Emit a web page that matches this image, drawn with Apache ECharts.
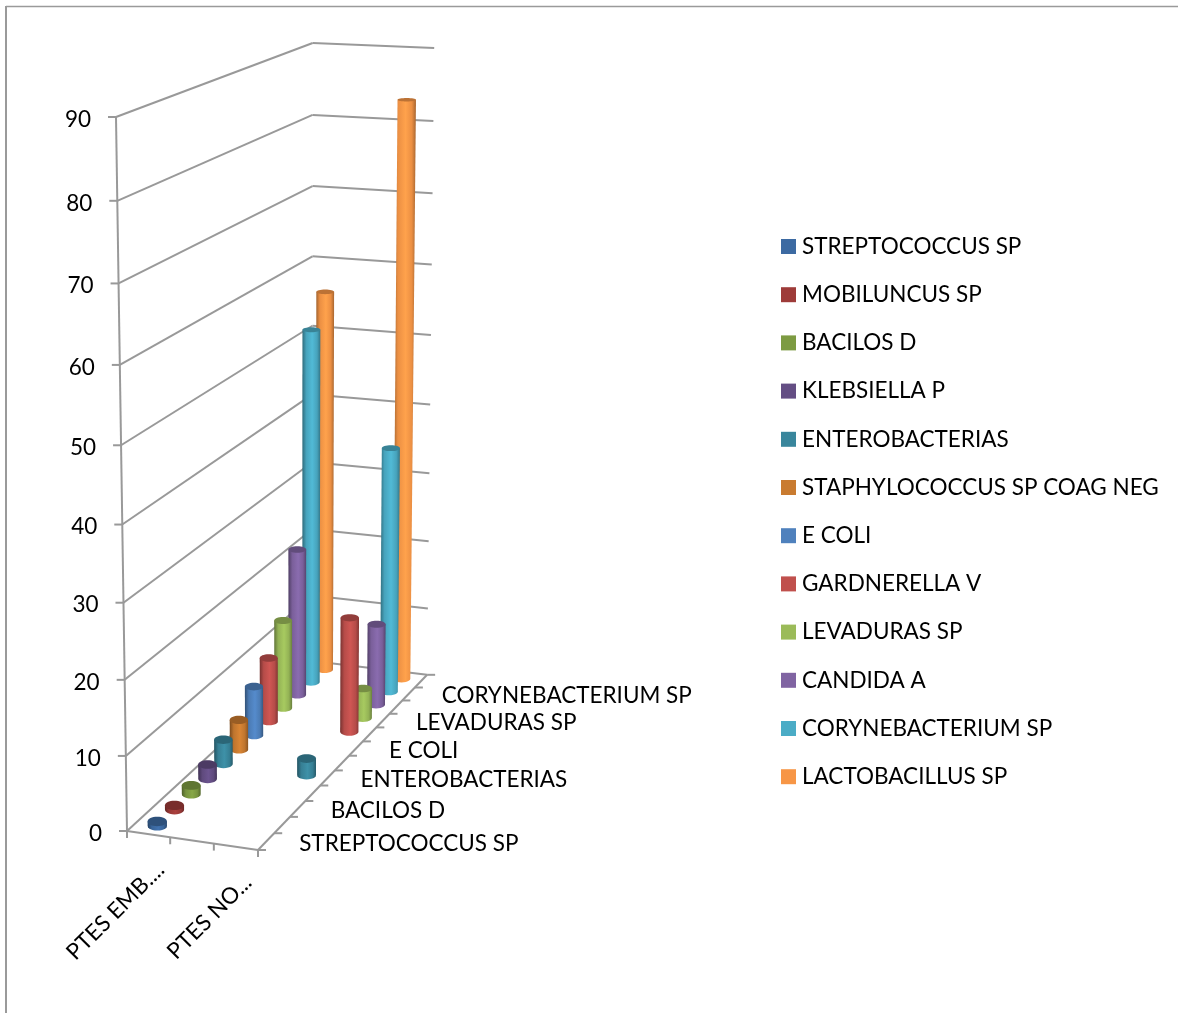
<!DOCTYPE html>
<html>
<head>
<meta charset="utf-8">
<style>
    html, body { margin: 0; padding: 0; background: #fff; }
    #main { width: 1178px; height: 1013px; }
</style>
<script src="https://cdn.jsdelivr.net/npm/echarts@6/dist/echarts.min.js"></script>
</head>
<body>
<div id="main"></div>
<script>
// 数据
const categories = ['PTES EMB....', '', 'PTES NO...'];
const species = ['STREPTOCOCCUS SP', 'MOBILUNCUS SP', 'BACILOS D', 'KLEBSIELLA P', 'ENTEROBACTERIAS',
    'STAPHYLOCOCCUS SP COAG NEG', 'E COLI', 'GARDNERELLA V', 'LEVADURAS SP', 'CANDIDA A',
    'CORYNEBACTERIUM SP', 'LACTOBACILLUS SP'];
const ptesEmb = [0.6, 0.6, 1.2, 2, 3.4, 4.2, 7, 9.2, 12.8, 21.4, 51.5, 55.7];
const ptesNo = [0, 0, 0, 0, 2.3, 0, 0, 16.3, 4.3, 11.8, 35.6, 83.2];
const yTicks = [0, 10, 20, 30, 40, 50, 60, 70, 80, 90];
const colors = ['#3C6AA2', '#9E3B39', '#7D9B42', '#644E84', '#39869C', '#C97B30',
    '#4F81BD', '#C0504D', '#9BBB59', '#8064A2', '#4BACC6', '#F79646'];

// 透视参数：前左下角 O，沿 u / w / v 三条边的端点，以及各方向的透视系数
const O = [127, 831], U = [258, 850], W = [312, 661], V = [116, 117];
const pu = -0.0168, pw = 0.1625, pv = -0.06;
const FONT = 'Lato';
const GRID = { left: 100, top: 100, width: 300, height: 300 };
const LINE = { stroke: '#999999', lineWidth: 2 };

function project(u, w, v) {
    const d = 1 + u * pu + w * pw + v * pv;
    const f = (i) => (O[i] + u * (U[i] * (1 + pu) - O[i]) + w * (W[i] * (1 + pw) - O[i]) + v * (V[i] * (1 + pv) - O[i])) / d;
    return [f(0), f(1)];
}
// 把 grid 里的坐标换成 0-1 的 u、v
function toUV(api, cat, val) {
    const c = api.coord([cat, val]);
    return [(c[0] - GRID.left) / GRID.width, (GRID.top + GRID.height - c[1]) / GRID.height];
}
function shade(hex, k) {
    const n = parseInt(hex.slice(1), 16);
    const ch = [n >> 16, (n >> 8) & 255, n & 255].map((c) => Math.min(255, Math.round(c * k)));
    return 'rgb(' + ch.join(',') + ')';
}
function line(a, b) {
    return { type: 'line', shape: { x1: a[0], y1: a[1], x2: b[0], y2: b[1] }, style: LINE, silent: true };
}
function text(str, x, y, extra) {
    return Object.assign({
        type: 'text', x: x, y: y, silent: true,
        style: { text: str, fill: '#000', font: '22.5px ' + FONT, align: 'left', verticalAlign: 'middle' }
    }, extra || {});
}

// 墙上的网格线和数值标签
function renderWall(params, api) {
    const uv = toUV(api, 0, api.value(1));
    const v = uv[1];
    const a = project(0, 0, v), b = project(0, 1, v), c = project(1, 1, v);
    const label = text(String(api.value(1)), a[0] - 25, a[1] + 2.5);
    label.style.align = 'right';
    return { type: 'group', children: [line(a, b), line(b, c), line(a, [a[0] - 8, a[1]]), label] };
}

// 地板、刻度和两条横轴的标签
function renderFloor() {
    const children = [];
    const p00 = project(0, 0, 0), p10 = project(1, 0, 0), p11 = project(1, 1, 0);
    children.push(line(p00, p10), line(p10, p11), line(p00, project(0, 0, 1)));
    for (let k = 0; k <= 3; k++) {
        const t = project(k / 3, 0, 0);
        children.push(line(t, [t[0], t[1] + 7]));
    }
    for (let k = 0; k <= species.length; k++) {
        const t = project(1, k / species.length, 0);
        children.push(line(t, [t[0] + 8, t[1]]));
    }
    species.forEach((name, i) => {
        if (i % 2) return;
        const t = project(1, (i + 0.5) / species.length, 0);
        children.push(text(name, t[0] + 33, t[1] + 2));
    });
    categories.forEach((name, i) => {
        if (!name) return;
        const t = project((i + 0.5) / categories.length, 0, 0);
        const label = text(name, t[0] + 12, t[1] + 32, { rotation: Math.PI / 4 });
        label.style.align = 'right';
        children.push(label);
    });
    return { type: 'group', children: children };
}

// 圆柱
function renderCylinder(index, api) {
    const val = api.value(1);
    if (!(val > 0)) return null;
    const uv = toUV(api, api.value(0), val);
    const u = uv[0], v = uv[1];
    const w = (index + 0.5) / species.length;
    const ru = 0.075, rw = 0.024;
    const ring = (h) => {
        const l = project(u - ru, w, h), r = project(u + ru, w, h);
        const n = project(u, w - rw, h), f = project(u, w + rw, h);
        return { cx: (l[0] + r[0]) / 2, cy: (n[1] + f[1]) / 2, rx: (r[0] - l[0]) / 2, ry: Math.abs(n[1] - f[1]) / 2 };
    };
    const top = ring(v), base = ring(0);
    const points = [[top.cx - top.rx, top.cy]];
    for (let a = 180; a >= 0; a -= 15) {
        const rad = a * Math.PI / 180;
        points.push([base.cx + base.rx * Math.cos(rad), base.cy + base.ry * Math.sin(rad)]);
    }
    points.push([top.cx + top.rx, top.cy]);
    const color = colors[index];
    const body = new echarts.graphic.LinearGradient(0, 0, 1, 0, [
        { offset: 0, color: shade(color, 0.62) },
        { offset: 0.22, color: shade(color, 0.95) },
        { offset: 0.55, color: shade(color, 1.08) },
        { offset: 0.82, color: shade(color, 0.95) },
        { offset: 1, color: shade(color, 0.68) }
    ]);
    return {
        type: 'group',
        children: [
            { type: 'polygon', shape: { points: points }, style: { fill: body }, silent: true },
            { type: 'ellipse', shape: { cx: top.cx, cy: top.cy, rx: top.rx, ry: top.ry }, style: { fill: shade(color, 0.76) }, silent: true }
        ]
    };
}

const chart = echarts.init(document.getElementById('main'));
const cylinders = species.map((name, i) => ({
    name: name,
    type: 'custom',
    coordinateSystem: 'cartesian2d',
    z: 30 - i,
    itemStyle: { color: colors[i] },
    encode: { x: 0, y: 1 },
    data: [[0, ptesEmb[i]], [2, ptesNo[i]]],
    renderItem: (params, api) => renderCylinder(i, api)
}));

chart.setOption({
    animation: false,
    backgroundColor: '#ffffff',
    tooltip: { show: false },
    grid: Object.assign({ show: false }, GRID),
    xAxis: { type: 'category', data: categories, show: false },
    yAxis: { type: 'value', min: 0, max: 90, interval: 10, show: false },
    legend: {
        orient: 'vertical',
        left: 776,
        top: 230,
        itemWidth: 15,
        itemHeight: 15,
        itemGap: 25.2,
        selectedMode: false,
        icon: 'rect',
        data: species,
        textStyle: { color: '#000', fontFamily: FONT, fontSize: 22.5, padding: [0, 0, 0, 1] }
    },
    graphic: [
        { type: 'line', shape: { x1: 6, y1: 6.5, x2: 1178, y2: 6.5 }, style: { stroke: '#9a9a9a', lineWidth: 1.5 }, silent: true },
        { type: 'line', shape: { x1: 6, y1: 6, x2: 6, y2: 1013 }, style: { stroke: '#9a9a9a', lineWidth: 2 }, silent: true }
    ],
    series: [
        {
            name: 'walls', type: 'custom', coordinateSystem: 'cartesian2d', z: 1,
            encode: { x: 0, y: 1 }, data: yTicks.map((t) => [0, t]), renderItem: renderWall
        },
        {
            name: 'floor', type: 'custom', coordinateSystem: 'cartesian2d', z: 1,
            encode: { x: 0, y: 1 }, data: [[0, 0]], renderItem: renderFloor
        }
    ].concat(cylinders)
});
</script>
</body>
</html>
